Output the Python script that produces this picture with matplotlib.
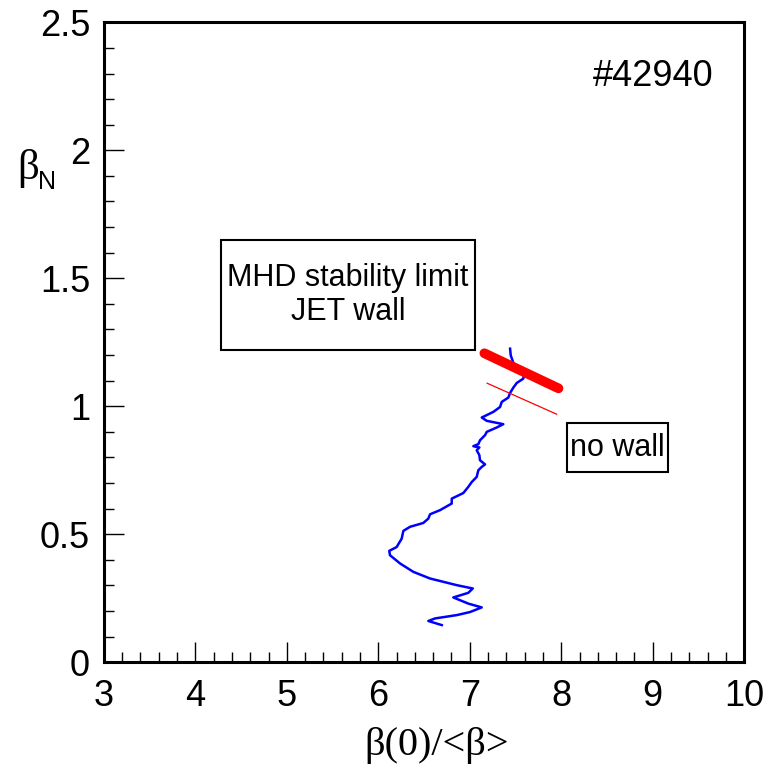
import matplotlib
matplotlib.use('Agg')
import matplotlib.pyplot as plt
from matplotlib.patches import Rectangle
from matplotlib.ticker import MultipleLocator

# beta(0)/<beta> vs beta_N trajectory, shot #42940 (traced from start to end)
peaking = [6.694, 6.547, 6.620, 6.858, 7.003, 7.131, 6.984, 6.820, 6.984, 7.033,
           6.858, 6.566, 6.383, 6.237, 6.128, 6.120, 6.201, 6.256, 6.274, 6.347,
           6.492, 6.547, 6.566, 6.675, 6.803, 6.803, 6.930, 6.984, 7.022, 7.076,
           7.094, 7.131, 7.167, 7.112, 7.105, 7.076, 7.105, 7.039, 7.094, 7.112,
           7.167, 7.186, 7.295, 7.367, 7.186, 7.131, 7.258, 7.331, 7.350, 7.422,
           7.441, 7.477, 7.514, 7.586, 7.594, 7.550, 7.477, 7.448, 7.441]
beta_n = [0.145, 0.161, 0.171, 0.184, 0.196, 0.214, 0.229, 0.253, 0.271, 0.288,
          0.301, 0.327, 0.353, 0.386, 0.418, 0.435, 0.450, 0.483, 0.513, 0.529,
          0.544, 0.561, 0.578, 0.594, 0.620, 0.639, 0.661, 0.685, 0.704, 0.724,
          0.750, 0.763, 0.773, 0.789, 0.809, 0.828, 0.839, 0.844, 0.852, 0.867,
          0.887, 0.900, 0.917, 0.930, 0.943, 0.956, 0.978, 0.997, 1.017, 1.034,
          1.052, 1.073, 1.091, 1.108, 1.128, 1.147, 1.169, 1.199, 1.225]

# stability limits
wall_x = [7.16, 7.97]
wall_y = [1.207, 1.070]
nowall_x = [7.19, 7.95]
nowall_y = [1.090, 0.969]

shot = '#42940'

sans = 'Liberation Sans'
serif = 'Liberation Serif'

fig = plt.figure(figsize=(7.64, 7.70), dpi=100)
ax = fig.add_axes([0.136, 0.140, 0.838, 0.831])

ax.plot(peaking, beta_n, color='#0000ff', lw=1.8)
ax.plot(wall_x, wall_y, color='#ff0000', lw=7, solid_capstyle='round')
ax.plot(nowall_x, nowall_y, color='#ff0000', lw=0.9)

ax.set_xlim(3, 10)
ax.set_ylim(0, 2.5)
ax.xaxis.set_major_locator(MultipleLocator(1))
ax.xaxis.set_minor_locator(MultipleLocator(0.2))
ax.yaxis.set_minor_locator(MultipleLocator(0.1))
ax.set_yticks([0, 0.5, 1, 1.5, 2, 2.5])
ax.set_yticklabels(['0', '0.5', '1', '1.5', '2', '2.5'])
ax.tick_params(which='major', direction='in', length=14.5, width=1, labelsize=26, pad=10)
ax.tick_params(which='minor', direction='in', length=7.5, width=1)
ax.tick_params(axis='x', which='major', pad=12)
for lab in ax.get_xticklabels() + ax.get_yticklabels():
    lab.set_family(sans)
for sp in ax.spines.values():
    sp.set_linewidth(2.2)

ax.text(9.66, 2.29, shot, fontsize=26, family=sans, ha='right', va='center')

# label boxes
ax.add_patch(Rectangle((4.28, 1.219), 2.78, 0.429, fc='white', ec='black', lw=1.5, zorder=3))
ax.text(5.67, 1.434, 'MHD stability limit\nJET wall', fontsize=22, family=sans,
        ha='center', va='center', linespacing=1.15, zorder=4)
ax.add_patch(Rectangle((8.06, 0.742), 1.11, 0.192, fc='white', ec='black', lw=1.5, zorder=3))
ax.text(8.615, 0.836, 'no wall', fontsize=22, family=sans, ha='center', va='center', zorder=4)

fig.text(0.571, 0.032, r'β(0)/<β>', fontsize=29, family=serif, ha='center', va='center')
fig.text(0.037, 0.781, 'β', fontsize=31, family=serif, ha='center', va='center')
fig.text(0.061, 0.763, 'N', fontsize=18, family=sans, ha='center', va='center')

fig.savefig('out.png', dpi=100)
